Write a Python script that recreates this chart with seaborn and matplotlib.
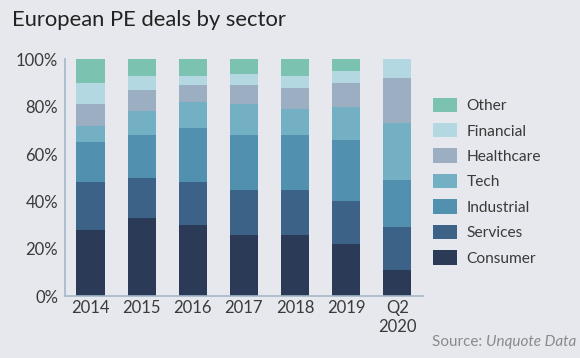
import numpy as np
import pandas as pd
import matplotlib
matplotlib.use("Agg")
import matplotlib.pyplot as plt
import seaborn as sns
from matplotlib.patches import Patch

# data (% of deals)
periods = ["2014", "2015", "2016", "2017", "2018", "2019", "Q2\n2020"]
sectors = ["Consumer", "Services", "Industrial", "Tech", "Healthcare", "Financial", "Other"]
consumer = [28, 33, 30, 26, 26, 22, 11]
services = [20, 17, 18, 19, 19, 18, 18]
industrial = [17, 18, 23, 23, 23, 26, 20]
tech = [7, 10, 11, 13, 11, 14, 24]
healthcare = [9, 9, 7, 8, 9, 10, 19]
financial = [9, 6, 4, 5, 5, 5, 8]
other = [10, 7, 7, 6, 7, 5, 0]

colors = ["#2b3a56", "#3c6287", "#5290b0", "#74b0c4", "#9caec1", "#b4d8e1", "#7bc3b0"]
bg = "#e7e8ed"

sns.set_style("white")
plt.rcParams["font.family"] = ["Lato", "DejaVu Sans"]

df = pd.DataFrame({"Consumer": consumer, "Services": services, "Industrial": industrial,
                   "Tech": tech, "Healthcare": healthcare, "Financial": financial,
                   "Other": other}, index=periods)
cum = df.cumsum(axis=1)

fig = plt.figure(figsize=(5.8, 3.58), dpi=100, facecolor=bg)
ax = fig.add_axes([0.112, 0.173, 0.617, 0.661])
ax.set_facecolor(bg)

# stacked bars: draw cumulative totals from the top down
for sector, col in reversed(list(zip(sectors, colors))):
    sns.barplot(x=periods, y=cum[sector].values, color=col, width=0.55,
                saturation=1, ax=ax, edgecolor="none")

ax.set_xlim(-0.5, 6.5)
ax.set_ylim(0, 100)
ax.set_yticks([0, 20, 40, 60, 80, 100])
ax.set_yticklabels([f"{v}%" for v in [0, 20, 40, 60, 80, 100]])
ax.tick_params(axis="both", length=0, labelsize=12, colors="#3a3a3a")
ax.tick_params(axis="y", pad=5)
ax.tick_params(axis="x", pad=3)
for s in ["top", "right"]:
    ax.spines[s].set_visible(False)
for s in ["left", "bottom"]:
    ax.spines[s].set_color("#a3b8ca")
    ax.spines[s].set_linewidth(1.2)

handles = [Patch(facecolor=c, edgecolor="none") for c in reversed(colors)]
fig.legend(handles, list(reversed(sectors)), loc="upper left",
           bbox_to_anchor=(0.735, 0.745), frameon=False, fontsize=11.2,
           labelcolor="#3a3a3a", handlelength=1.6, handleheight=1.05,
           labelspacing=0.64, handletextpad=0.6, borderaxespad=0)

fig.text(0.02, 0.945, "European PE deals by sector", fontsize=15.8, color="#222222",
         va="center", ha="left")
fig.text(0.745, 0.045, "Source: ", fontsize=11, color="#8a8a8a", va="center", ha="left")
fig.text(0.838, 0.045, "Unquote Data", fontsize=11, color="#8a8a8a", va="center",
         ha="left", style="italic")

fig.savefig("out.png", dpi=100, facecolor=bg)
